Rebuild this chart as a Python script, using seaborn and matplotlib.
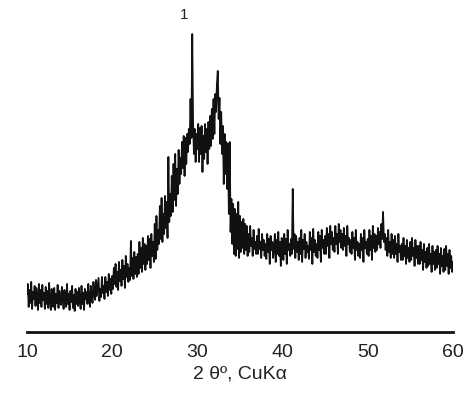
import numpy as np
import pandas as pd
import matplotlib
matplotlib.use("Agg")
import matplotlib.pyplot as plt
import seaborn as sns

# 2-theta grid (degrees), step 0.1 from 10 to 60
two_theta = [round(10 + 0.1 * i, 1) for i in range(501)]

# Intensity (arbitrary units), 10 values per degree
intensity = [
    40, 50, 27, 44, 31, 52, 25, 42, 35, 48,        # 10
    28, 46, 36, 24, 50, 31, 44, 27, 49, 34,        # 11
    41, 25, 47, 30, 43, 26, 51, 33, 24, 45,        # 12
    35, 27, 46, 24, 40, 31, 49, 26, 43, 33,        # 13
    29, 47, 35, 25, 44, 33, 27, 50, 30, 40,        # 14
    24, 43, 32, 48, 26, 39, 23, 45, 30, 42,        # 15
    28, 46, 33, 25, 48, 30, 41, 24, 45, 35,        # 16
    42, 30, 50, 35, 27, 48, 37, 31, 52, 40,        # 17
    34, 54, 38, 47, 56, 33, 45, 37, 57, 41,        # 18
    48, 35, 57, 42, 52, 38, 60, 44, 55, 40,        # 19
    58, 45, 66, 50, 70, 47, 62, 44, 72, 53,        # 20
    64, 48, 74, 55, 68, 46, 78, 57, 70, 52,        # 21
    66, 54, 93, 58, 76, 55, 82, 60, 77, 57,        # 22
    80, 60, 92, 66, 86, 62, 96, 70, 90, 64,        # 23
    88, 70, 98, 74, 95, 66, 100, 78, 92, 72,       # 24
    110, 75, 118, 84, 104, 90, 128, 95, 136, 92,   # 25
    120, 100, 138, 106, 132, 96, 177, 112, 140, 118,  # 26
    158, 122, 170, 134, 180, 128, 165, 140, 184, 150,  # 27
    176, 160, 192, 166, 198, 158, 196, 170, 200, 182,  # 28
    205, 190, 235, 196, 300, 210, 180, 205, 172, 200,  # 29
    185, 210, 172, 206, 180, 208, 162, 198, 175, 210,  # 30
    182, 205, 170, 212, 185, 218, 188, 225, 195, 235,  # 31
    200, 240, 222, 250, 263, 215, 236, 190, 222, 180,  # 32
    208, 150, 200, 160, 192, 145, 190, 120, 192, 102,  # 33
    135, 90, 130, 80, 125, 78, 120, 85, 132, 76,   # 34
    118, 82, 112, 86, 115, 80, 110, 84, 108, 78,   # 35
    100, 82, 108, 88, 96, 78, 104, 85, 92, 80,     # 36
    98, 80, 105, 85, 92, 76, 100, 84, 94, 78,      # 37
    90, 75, 100, 82, 95, 70, 98, 84, 92, 76,       # 38
    85, 100, 72, 94, 80, 102, 78, 92, 68, 96,      # 39
    88, 74, 100, 80, 95, 70, 104, 84, 90, 78,      # 40
    95, 80, 145, 85, 100, 76, 98, 82, 92, 74,      # 41
    96, 80, 104, 72, 94, 85, 100, 76, 92, 82,      # 42
    88, 75, 102, 84, 96, 70, 105, 82, 94, 78,      # 43
    90, 76, 102, 84, 98, 72, 104, 86, 94, 80,      # 44
    98, 80, 106, 88, 100, 76, 108, 90, 102, 84,    # 45
    96, 82, 108, 90, 100, 80, 110, 92, 104, 86,    # 46
    100, 84, 106, 88, 98, 78, 108, 90, 96, 82,     # 47
    94, 80, 102, 86, 96, 74, 104, 84, 92, 78,      # 48
    90, 76, 100, 84, 96, 72, 104, 86, 92, 80,      # 49
    95, 78, 104, 84, 98, 74, 108, 86, 100, 82,     # 50
    98, 84, 106, 90, 102, 86, 110, 95, 122, 92,    # 51
    100, 84, 96, 78, 104, 82, 92, 76, 100, 80,     # 52
    94, 76, 98, 80, 90, 72, 100, 82, 88, 74,       # 53
    90, 74, 96, 78, 88, 70, 94, 76, 86, 72,        # 54
    92, 74, 96, 78, 86, 68, 94, 76, 88, 70,        # 55
    88, 70, 92, 74, 84, 64, 90, 72, 82, 66,        # 56
    86, 68, 90, 70, 80, 62, 88, 70, 82, 64,        # 57
    84, 66, 88, 70, 80, 60, 86, 68, 78, 62,        # 58
    85, 64, 88, 68, 80, 60, 84, 66, 78, 62,        # 59
    72,                                            # 60
]

tick_values = [10, 20, 30, 40, 50, 60]
peak_label = "1"
peak_pos = (28.5, 320)
x_label = "2 θº, CuKα"

df = pd.DataFrame({"two_theta": two_theta, "intensity": intensity})

sns.set_style("white")
plt.rcParams["font.family"] = ["Liberation Sans", "DejaVu Sans"]

fig = plt.figure(figsize=(4.65, 4.10), dpi=100)
ax = fig.add_axes([0.058, 0.188, 0.916, 0.812])

sns.lineplot(data=df, x="two_theta", y="intensity", ax=ax,
             color="#111111", linewidth=1.3, estimator=None)

ax.set_xlim(10, 60)
ax.set_ylim(2, 335)
ax.set_xticks(tick_values)
ax.set_xticklabels([str(t) for t in tick_values], fontsize=14, color="#222222")
ax.set_yticks([])
ax.tick_params(axis="x", length=0, pad=8)
ax.set_xlabel(x_label, fontsize=14, color="#222222", labelpad=3)
ax.set_ylabel("")

for s in ["top", "right", "left"]:
    ax.spines[s].set_visible(False)
ax.spines["bottom"].set_linewidth(2.0)
ax.spines["bottom"].set_color("#111111")

ax.text(peak_pos[0], peak_pos[1], peak_label, ha="center", va="center",
        fontsize=11, color="#222222")

fig.savefig("out.png", dpi=100)
